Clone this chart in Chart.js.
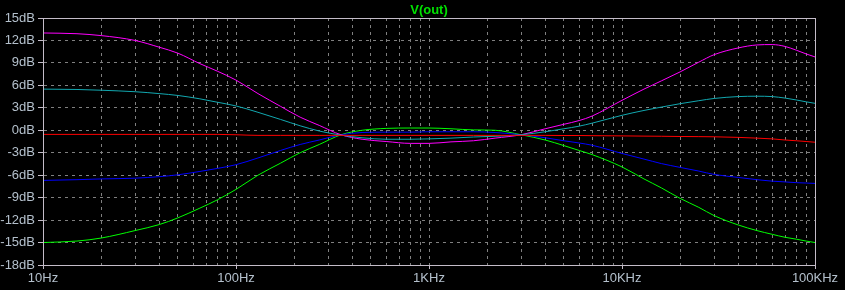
<!DOCTYPE html>
<html>
<head>
<meta charset="utf-8">
<script src="https://cdn.jsdelivr.net/npm/chart.js@4"></script>
<style>
  html, body { margin: 0; padding: 0; background: #000; }
  #wrap { width: 845px; height: 290px; }
</style>
</head>
<body>
<div id="wrap"><canvas id="myChart" width="845" height="290"></canvas></div>
<script>
// frequency points (Hz) shared by every trace
const FREQ = [10, 15, 20, 30, 40, 50, 65, 80, 100, 130, 170, 215, 270, 350, 450, 600, 800, 1000,
  1300, 1700, 2200, 3000, 4000, 5000, 6000, 7000, 10000, 13000, 16000, 20000, 25000, 30000,
  40000, 50000, 60000, 70000, 80000, 90000, 100000];

const MAGENTA = [13.0, 12.9, 12.65, 12.0, 11.1, 10.3, 8.9, 7.9, 6.7, 4.9, 3.2, 1.75, 0.65, -0.6, -1.2, -1.5, -1.75, -1.75,
  -1.55, -1.4, -1.05, -0.6, 0.2, 0.8, 1.3, 1.9, 4.0, 5.5, 6.6, 7.8, 9.1, 10.1,
  11.0, 11.4, 11.45, 11.2, 10.7, 10.2, 9.8];
const CYAN = [5.5, 5.45, 5.35, 5.15, 4.9, 4.65, 4.2, 3.75, 3.25, 2.4, 1.45, 0.6, -0.1, -0.65, -1.0, -1.2, -1.2, -1.15,
  -1.05, -0.9, -0.8, -0.6, -0.2, 0.2, 0.55, 0.95, 2.0, 2.65, 3.1, 3.55, 3.95, 4.25,
  4.5, 4.55, 4.5, 4.3, 4.05, 3.8, 3.6];
const RED = [-0.55, -0.55, -0.55, -0.55, -0.55, -0.55, -0.55, -0.55, -0.6, -0.68, -0.68, -0.68, -0.68, -0.68, -0.68, -0.68, -0.68, -0.68,
  -0.68, -0.68, -0.68, -0.68, -0.68, -0.7, -0.7, -0.72, -0.75, -0.78, -0.8, -0.83, -0.85, -0.87,
  -0.95, -1.05, -1.15, -1.3, -1.4, -1.5, -1.6];
const BLUE = [-6.7, -6.6, -6.5, -6.4, -6.2, -5.95, -5.5, -5.1, -4.6, -3.7, -2.7, -1.9, -1.3, -0.6, -0.3, -0.25, -0.25, -0.2,
  -0.2, -0.2, -0.3, -0.6, -1.0, -1.4, -1.7, -2.0, -3.1, -3.85, -4.45, -4.96, -5.45, -5.9,
  -6.3, -6.6, -6.8, -6.9, -7.0, -7.05, -7.1];
const GREEN = [-15.0, -14.8, -14.4, -13.4, -12.6, -11.7, -10.4, -9.3, -7.9, -6.0, -4.4, -3.0, -1.9, -0.6, 0.0, 0.25, 0.3, 0.3,
  0.2, 0.05, 0.0, -0.6, -1.3, -2.05, -2.7, -3.25, -4.9, -6.5, -7.7, -9.1, -10.3, -11.4,
  -12.65, -13.4, -13.9, -14.3, -14.55, -14.8, -15.0];

const X_TICKS = [10, 20, 30, 40, 50, 60, 70, 80, 90, 100, 200, 300, 400, 500, 600, 700, 800, 900,
  1000, 2000, 3000, 4000, 5000, 6000, 7000, 8000, 9000, 10000, 20000, 30000, 40000, 50000,
  60000, 70000, 80000, 90000, 100000];
const X_LABELS = { 10: '10Hz', 100: '100Hz', 1000: '1KHz', 10000: '10KHz', 100000: '100KHz' };

const SERIES = [
  { name: 'red', color: '#ff0000', data: RED },
  { name: 'cyan', color: '#12a8b0', data: CYAN },
  { name: 'magenta', color: '#ff00ff', data: MAGENTA },
  { name: 'blue', color: '#0000ff', data: BLUE },
  { name: 'green', color: '#00ff00', data: GREEN }
];

const FRAME = '#c4bcc8';
const GRID = '#808080';
const LABEL = '#b4c0cc';
const FONT = 'Liberation Sans, Arial, sans-serif';

// plot frame on all four sides
const framePlugin = {
  id: 'frame',
  afterDraw(c) {
    const a = c.chartArea, ctx = c.ctx;
    ctx.save();
    ctx.strokeStyle = FRAME;
    ctx.lineWidth = 1;
    ctx.strokeRect(Math.round(a.left) + 0.5, Math.round(a.top) + 0.5,
      Math.round(a.right - a.left), Math.round(a.bottom - a.top));
    ctx.restore();
  }
};

const ctx = document.getElementById('myChart').getContext('2d');
const chart = new Chart(ctx, {
  type: 'line',
  data: {
    datasets: SERIES.map(s => ({
      label: s.name,
      data: FREQ.map((f, i) => ({ x: f, y: s.data[i] })),
      borderColor: s.color,
      borderWidth: 1,
      pointRadius: 0,
      cubicInterpolationMode: 'monotone',
      fill: false
    }))
  },
  options: {
    responsive: false,
    animation: false,
    layout: { padding: { left: 0, right: 30, top: 0, bottom: 0 } },
    plugins: {
      legend: { display: false },
      tooltip: { enabled: false },
      title: {
        display: true,
        fullSize: false,
        text: 'V(out)',
        color: '#00e000',
        font: { family: FONT, size: 13, weight: 'bold', lineHeight: '16px' },
        padding: { top: 2, bottom: 0 }
      }
    },
    scales: {
      x: {
        type: 'logarithmic',
        min: 10,
        max: 100000,
        afterBuildTicks: sc => { sc.ticks = X_TICKS.map(v => ({ value: v })); },
        afterFit: sc => { sc.height = 25; },
        grid: {
          color: GRID,
          tickLength: 4,
          tickColor: c => (X_LABELS[c.tick && c.tick.value] ? FRAME : 'rgba(0,0,0,0)'),
          tickBorderDash: [],
          lineWidth: 1
        },
        border: { display: true, color: FRAME, dash: [3, 4] },
        ticks: {
          autoSkip: false,
          maxRotation: 0,
          padding: 2,
          color: LABEL,
          font: { family: FONT, size: 13 },
          callback: v => X_LABELS[v] || ''
        }
      },
      y: {
        min: -18,
        max: 15,
        afterFit: sc => { sc.width = 43; },
        grid: {
          color: GRID,
          tickLength: 5,
          tickColor: FRAME,
          tickBorderDash: [],
          lineWidth: 1
        },
        border: { display: true, color: FRAME, dash: [3, 4] },
        ticks: {
          stepSize: 3,
          padding: 3,
          color: LABEL,
          font: { family: FONT, size: 13 },
          callback: v => v + 'dB'
        }
      }
    }
  },
  plugins: [framePlugin]
});
</script>
</body>
</html>
